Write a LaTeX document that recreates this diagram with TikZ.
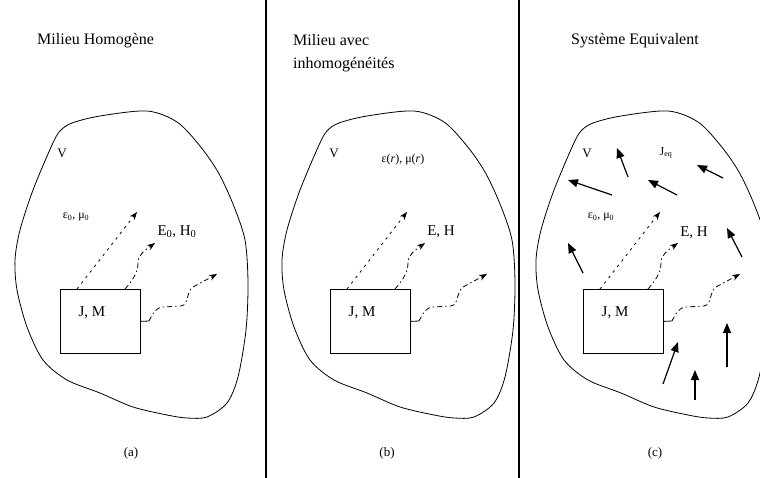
\documentclass[tikz,border=0pt]{standalone}
\usepackage{fontspec}
\setmainfont{Liberation Serif}
\usetikzlibrary{arrows.meta}
\newcommand\srcpanel[1]{%
  \node[srcbox] (#1box) at (0,0) {};
  \node[lbl] (#1jm) at (32,24) {J, M};
  \coordinate (#1a) at (17,0);
  \coordinate (#1b) at (65,0);
  \coordinate (#1t1) at (77,-77);
  \coordinate (#1m) at (78,-26);
  \coordinate (#1t2) at (95,-46);
  \coordinate (#1s) at (89,32);
  \coordinate (#1t3) at (157,-15);
  \draw[dotarrow] (#1a) -- (#1t1);
  \draw[dasharrow] (#1b) .. controls (72,-8) and (78,-16) .. (#1m) .. controls (78,-34) and (84,-38) .. (#1t2);
  \draw[thin line] (#1box.east) -- (#1s);
  \draw[dasharrow] (#1s) .. controls (92,27) and (94,19) .. (103,18) -- (121,17) .. controls (129,16) and (126,3) .. (133,-2) -- (#1t3);
}
\begin{document}
\begin{tikzpicture}[x=1pt,y=-1pt,
  thin line/.style={line width=0.8pt},
  srcbox/.style={draw, line width=0.8pt, minimum width=80pt, minimum height=64pt, inner sep=0pt, anchor=north west},
  dotarrow/.style={line width=0.8pt, dash pattern=on 2.5pt off 4.5pt, -{Stealth[length=8pt,width=6pt]}},
  dasharrow/.style={line width=0.8pt, dash pattern=on 5pt off 3pt on 1.5pt off 3pt, -{Stealth[length=8pt,width=6pt]}},
  eqarrow/.style={line width=1.2pt, -{Triangle[length=10pt,width=8pt]}},
  lbl/.style={inner sep=0pt, font=\fontsize{15}{17}\selectfont},
  mid/.style={inner sep=0pt, font=\fontsize{13}{15}\selectfont},
  small/.style={inner sep=0pt, font=\fontsize{12}{14}\selectfont},
  title/.style={inner sep=0pt, anchor=west, align=left, font=\fontsize{16}{23}\selectfont},
  divider/.style={line width=1.3pt}
]
\useasboundingbox (0,0) rectangle (760,478);
\fill[white] (0,0) rectangle (760,478);
\clip (0,0) rectangle (760,478);

% dividers
\coordinate (d1t) at (266,0); \coordinate (d1b) at (266,478);
\coordinate (d2t) at (519,0); \coordinate (d2b) at (519,478);
\draw[divider] (d1t) -- (d1b);
\draw[divider] (d2t) -- (d2b);

% titles
\node[title] (ta) at (37,41) {Milieu Homogène};
\node[title] (tb) at (293,53) {Milieu avec\\inhomogénéités};
\node[title] (tc) at (571,41) {Système Equivalent};

% volumes
\foreach \s in {0,267,521}{
  \draw[thin line, shift={(\s,0)}] plot[smooth cycle, tension=0.5] coordinates {
    (52,145) (60,131) (72,123) (100,116) (147,111) (177,122) (200,146) (218,172)
    (233,204) (245,240) (248,283) (246,330) (238,377) (227,403) (207,417) (187,418)
    (167,415) (133,407) (100,393) (67,380) (43,360) (27,327) (17,290) (15,260)
    (20,230) (33,190)};
}

% panel (a)
\begin{scope}[shift={(60,289)}]
  \srcpanel{pa}
\end{scope}
\node[mid] (va) at (62,153) {V};
\node[small] (epsa) at (76,217) {ε\textsubscript{0}, μ\textsubscript{0}};
\node[lbl] (eha) at (177,232) {E\textsubscript{0}, H\textsubscript{0}};
\node[mid] (capa) at (131,453) {(a)};

% panel (b)
\begin{scope}[shift={(330,289)}]
  \srcpanel{pb}
\end{scope}
\node[mid] (vb) at (334,153) {V};
\node[small] (epsb) at (403,160) {ε(\textit{r}), μ(\textit{r})};
\node[lbl] (ehb) at (441,232) {E, H};
\node[mid] (capb) at (387,453) {(b)};

% panel (c)
\begin{scope}[shift={(583,289)}]
  \srcpanel{pc}
\end{scope}
\node[mid] (vc) at (587,153) {V};
\node[small] (jeq) at (666,153) {J\textsubscript{eq}};
\node[small] (epsc) at (601,217) {ε\textsubscript{0}, μ\textsubscript{0}};
\node[lbl] (ehc) at (694,233) {E, H};
\node[mid] (capc) at (655,453) {(c)};

% equivalent currents
\foreach \i/\xa/\ya/\xb/\yb in {
  1/628/177/617/148, 2/612/195/568/180, 3/677/195/648/180, 4/723/178/697/165,
  5/583/273/568/243, 6/742/257/727/228, 7/663/384/678/342, 8/695/400/695/370,
  9/727/367/727/323}{
  \coordinate (q\i s) at (\xa,\ya);
  \coordinate (q\i e) at (\xb,\yb);
  \draw[eqarrow] (q\i s) -- (q\i e);
}
\end{tikzpicture}
\end{document}
